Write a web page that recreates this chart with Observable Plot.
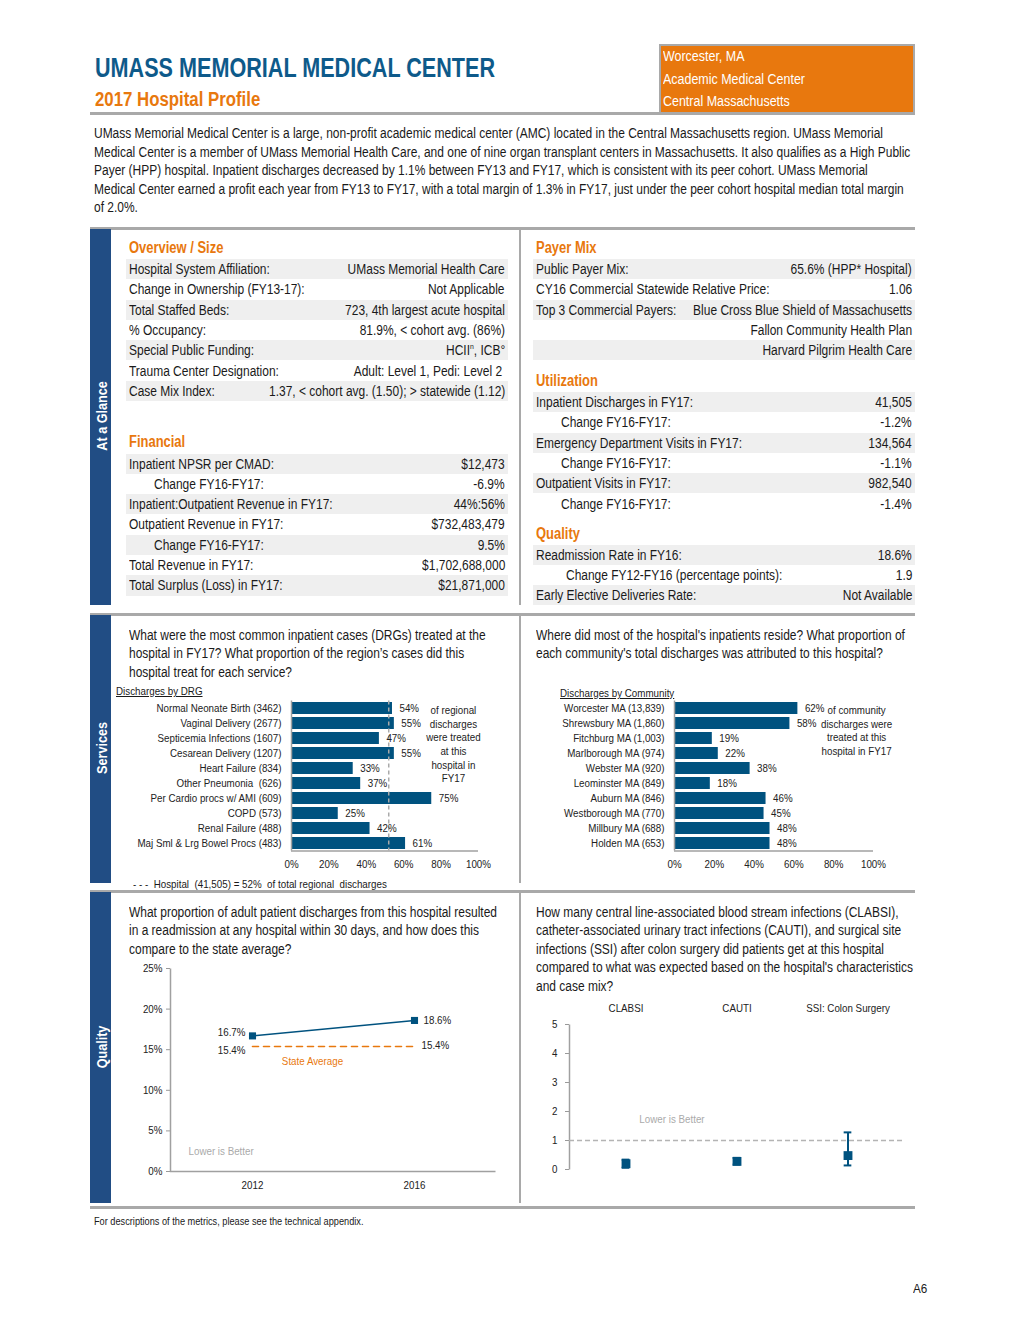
<!DOCTYPE html>
<html><head><meta charset="utf-8">
<script src="https://cdn.jsdelivr.net/npm/d3@7"></script>
<script src="https://cdn.jsdelivr.net/npm/@observablehq/plot@0.6"></script>
<style>
:root{--nf:"Liberation Sans Narrow","Arial Narrow","Liberation Sans",Arial,sans-serif;}
body{margin:0;background:#fff;}
#page{position:relative;width:1020px;height:1320px;font-family:var(--nf);color:#1a1a1a;overflow:hidden;background:#fff}
.t{position:absolute;white-space:nowrap}
.sx{display:inline-block;white-space:nowrap}
.hline{position:absolute;background:#a9a9a9}
.side{position:absolute;left:90px;width:21px;background:#214d84}
.sidelab{position:absolute;color:#fff;font-weight:bold;font-size:15px;transform:translate(-50%,-50%) rotate(-90deg) scaleX(0.84);white-space:nowrap}
.row{position:absolute;height:20.3px;line-height:20.3px;font-size:14px}
.row.sh{background:#efefef}
.nl{position:absolute;top:0;white-space:nowrap;transform:scaleX(0.855);transform-origin:left center}
.nr{position:absolute;top:0;right:3px;white-space:nowrap;transform:scaleX(0.855);transform-origin:right center}
.chart{position:absolute}
.chart svg{overflow:visible}
.chart [aria-label^="y-axis"] line,.chart [aria-label="y-axis tick"] path{stroke:#999}
</style>
</head><body><div id="page"></div>
<script>
// ---------- DATA ----------
const hospitalName = "UMASS MEMORIAL MEDICAL CENTER";
const profileTitle = "2017 Hospital Profile";
const boxLines = ["Worcester, MA", "Academic Medical Center", "Central Massachusetts"];
const introLines = [
  "UMass Memorial Medical Center is a large, non-profit academic medical center (AMC) located in the Central Massachusetts region. UMass Memorial",
  "Medical Center is a member of UMass Memorial Health Care, and one of nine organ transplant centers in Massachusetts. It also qualifies as a High Public",
  "Payer (HPP) hospital. Inpatient discharges decreased by 1.1% between  FY13 and FY17, which is consistent with its peer cohort. UMass Memorial",
  "Medical Center earned a profit each year from FY13 to FY17, with a total margin of 1.3% in FY17, just under the peer cohort hospital median total margin",
  "of 2.0%."
];
const overviewRows = [
  ["Hospital System Affiliation:", "UMass Memorial Health Care", 0],
  ["Change in Ownership (FY13-17):", "Not Applicable", 0],
  ["Total Staffed Beds:", "723, 4th largest acute hospital", 0],
  ["% Occupancy:", "81.9%, < cohort avg. (86%)", 0],
  ["Special Public Funding:", "HCII<sup style='font-size:8px;line-height:0'>n</sup>, ICB°", 0],
  ["Trauma Center Designation:", "Adult: Level 1, Pedi: Level 2&nbsp;", 0],
  ["Case Mix Index:", "1.37, < cohort avg. (1.50); > statewide (1.12)", 0]
];
const financialRows = [
  ["Inpatient NPSR per CMAD:", "$12,473", 0],
  ["Change FY16-FY17:", "-6.9%", 25],
  ["Inpatient:Outpatient Revenue in FY17:", "44%:56%", 0],
  ["Outpatient Revenue in FY17:", "$732,483,479", 0],
  ["Change FY16-FY17:", "9.5%", 25],
  ["Total Revenue in FY17:", "$1,702,688,000", 0],
  ["Total Surplus (Loss) in FY17:", "$21,871,000", 0]
];
const payerRows = [
  ["Public Payer Mix:", "65.6% (HPP* Hospital)", 0],
  ["CY16 Commercial Statewide Relative Price:", "1.06", 0],
  ["Top 3 Commercial Payers:", "Blue Cross Blue Shield of Massachusetts", 0],
  ["", "Fallon Community Health Plan", 0],
  ["", "Harvard Pilgrim Health Care", 0]
];
const utilizationRows = [
  ["Inpatient Discharges in FY17:", "41,505", 0],
  ["Change FY16-FY17:", "-1.2%", 25],
  ["Emergency Department Visits in FY17:", "134,564", 0],
  ["Change FY16-FY17:", "-1.1%", 25],
  ["Outpatient Visits in FY17:", "982,540", 0],
  ["Change FY16-FY17:", "-1.4%", 25]
];
const qualityRows = [
  ["Readmission Rate in FY16:", "18.6%", 0],
  ["Change FY12-FY16 (percentage points):", "1.9", 30],
  ["Early Elective Deliveries Rate:", "Not Available", 0]
];
const drgQuestion = ["What were the most common inpatient cases (DRGs) treated at the",
  "hospital in FY17? What proportion of the region’s cases did this", "hospital treat for each service?"];
const communityQuestion = ["Where did most of the hospital's inpatients reside? What proportion of",
  "each community's total discharges was attributed to this hospital?"];
const readmQuestion = ["What proportion of adult patient discharges from this hospital resulted",
  "in a readmission at any hospital within 30 days, and how does this", "compare to the state average?"];
const infQuestion = ["How many central line-associated blood stream infections (CLABSI),",
  "catheter-associated urinary tract infections (CAUTI), and surgical site",
  "infections (SSI) after colon surgery did patients get at this hospital",
  "compared to what was expected based on the hospital's characteristics", "and case mix?"];

const drgLabels = ["Normal Neonate Birth (3462)", "Vaginal Delivery (2677)", "Septicemia Infections (1607)",
  "Cesarean Delivery (1207)", "Heart Failure (834)", "Other Pneumonia  (626)", "Per Cardio procs w/ AMI (609)",
  "COPD (573)", "Renal Failure (488)", "Maj Sml & Lrg Bowel Procs (483)"];
const drgShare = [54, 55, 47, 55, 33, 37, 75, 25, 42, 61];
const hospitalRegionalShare = 52;
const drgNote = "of regional\ndischarges\nwere treated\nat this\nhospital in\nFY17";
const drgFootnote = "- - -  Hospital  (41,505) = 52%  of total regional  discharges";

const communityLabels = ["Worcester MA (13,839)", "Shrewsbury MA (1,860)", "Fitchburg MA (1,003)",
  "Marlborough MA (974)", "Webster MA (920)", "Leominster MA (849)", "Auburn MA (846)",
  "Westborough MA (770)", "Millbury MA (688)", "Holden MA (653)"];
const communityShare = [62, 58, 19, 22, 38, 18, 46, 45, 48, 48];
const communityNote = "of community\ndischarges were\ntreated at this\nhospital in FY17";

const pctTicks = [0, 20, 40, 60, 80, 100];

const readmYears = ["2012", "2016"];
const readmHospital = [16.7, 18.6];
const readmState = [15.4, 15.4];
const readmTicks = [0, 5, 10, 15, 20, 25];

const infMeasures = ["CLABSI", "CAUTI", "SSI: Colon Surgery"];
const infRatio = [0.20, 0.28, 0.48];
const infLower = [0.06, 0.17, 0.14];
const infUpper = [0.34, 0.40, 1.28];
const infTicks = [0, 1, 2, 3, 4, 5];

// ---------- LAYOUT ----------
const BLUE = "#00527f", ORANGE = "#e8780e", TITLE = "#0e5a8a", GREY = "#a0a0a0";
const NF = getComputedStyle(document.documentElement).getPropertyValue("--nf");
const SX = 0.855, SXC = 0.89;
const page = document.getElementById("page");
function el(tag, cls, css, html) {
  const e = document.createElement(tag);
  if (cls) e.className = cls;
  Object.assign(e.style, css || {});
  if (html != null) e.innerHTML = html;
  page.appendChild(e);
  return e;
}
function text(str, x, cy, size, lh, css, s = SX, spanCss = "") {
  return el("div", "t", Object.assign({left: x + "px", top: (cy - lh / 2) + "px", fontSize: size + "px", lineHeight: lh + "px"}, css || {}),
    `<span class="sx" style="transform:scaleX(${s});transform-origin:left center;${spanCss}">${str}</span>`);
}
function lines(arr, x, cy0, size, lh, css, s) { arr.forEach((str, i) => text(str, x, cy0 + i * lh, size, lh, css, s)); }

// header
text(hospitalName, 95, 68, 27, 30, {color: TITLE, fontWeight: "bold"}, 0.8);
text(profileTitle, 95, 99, 20, 24, {color: ORANGE, fontWeight: "bold"}, 0.84);
el("div", "", {position: "absolute", left: "659px", top: "44px", width: "252px", height: "68px", background: ORANGE,
  borderTop: "2px solid #a9a9a9", borderLeft: "2px solid #a9a9a9", borderRight: "2px solid #a9a9a9"});
boxLines.forEach((str, i) => text(str, 663, 56 + i * 22.5, 14, 20, {color: "#fff"}, 0.89));
el("div", "hline", {left: "90px", top: "112px", width: "825px", height: "3px"});
lines(introLines, 94, 133.5, 14, 18.5);

// section frames
[[228, 605], [614, 883], [891, 1203]].forEach(([a, b]) => {
  el("div", "hline", {left: "90px", top: (a - 1) + "px", width: "825px", height: "3px"});
  el("div", "side", {top: (a + 1) + "px", height: (b - a - 1) + "px"});
  el("div", "hline", {left: "519px", top: (a + 1) + "px", width: "2px", height: (b - a - 1) + "px"});
});
el("div", "hline", {left: "90px", top: "1206px", width: "825px", height: "3px"});
el("div", "sidelab", {left: "101px", top: "416px"}, "At a Glance");
el("div", "sidelab", {left: "101px", top: "748px"}, "Services");
el("div", "sidelab", {left: "101px", top: "1047px"}, "Quality");

// tables
function section(title, x, cy) { text(title, x, cy, 16, 20, {color: ORANGE, fontWeight: "bold"}, 0.81); }
function table(rows, x0, x1, y0) {
  rows.forEach(([lab, val, ind], i) => {
    const r = el("div", "row" + (i % 2 === 0 ? " sh" : ""), {left: x0 + "px", width: (x1 - x0) + "px", top: (y0 + i * 20.3) + "px"});
    r.innerHTML = `<span class="nl" style="left:${3 + ind}px">${lab}</span><span class="nr">${val}</span>`;
  });
}
section("Overview / Size", 129, 248); table(overviewRows, 126, 508, 259);
section("Financial", 129, 442); table(financialRows, 126, 508, 453.5);
section("Payer Mix", 536, 248); table(payerRows, 533, 915, 259);
section("Utilization", 536, 381); table(utilizationRows, 533, 915, 392);
section("Quality", 536, 534); table(qualityRows, 533, 915, 544.5);

// questions & notes
lines(drgQuestion, 129, 635, 14, 18.5);
lines(communityQuestion, 536, 635, 14, 18.5);
lines(readmQuestion, 129, 912, 14, 18.5);
lines(infQuestion, 536, 912, 14, 18.5);
text("Discharges by DRG", 116, 691, 11, 14, {}, SXC, "text-decoration:underline");
text("Discharges by Community", 560, 693, 11, 14, {}, SXC, "text-decoration:underline");
text(drgFootnote, 133, 884, 11, 14, {}, SXC, "white-space:pre");
text("For descriptions of the metrics, please see the technical appendix.", 94, 1222, 10, 14, {}, 0.92);
text("A6", 913, 1289, 13, 16, {}, 0.9);

const baseStyle = {fontFamily: NF, fontSize: "11px", color: "#222", background: "transparent", overflow: "visible"};
function narrowSvg(node, s) {
  node.querySelectorAll("text").forEach(t => {
    const x = parseFloat(t.getAttribute("x")) || 0;
    const T = t.getAttribute("transform") || "";
    t.setAttribute("transform", `${T} translate(${x},0) scale(${s},1) translate(${-x},0)`);
  });
}
function place(plot, x, y) {
  narrowSvg(plot, SXC);
  const d = el("div", "chart", {left: x + "px", top: y + "px"});
  d.appendChild(plot);
}

// bar charts (DRG and community)
function barChart(labels, shares, opts) {
  const data = labels.map((label, i) => ({label, share: shares[i]}));
  const marks = [
    Plot.barX(data, {x: "share", y: "label", fill: BLUE}),
    Plot.ruleX([0], {stroke: GREY, strokeWidth: 1.5}),
    Plot.ruleY([labels[labels.length - 1]], {dy: 7.5, stroke: GREY, strokeWidth: 1.5})
  ];
  if (opts.refLine != null) marks.push(Plot.ruleX([opts.refLine], {stroke: "#aaa", strokeWidth: 1.5, strokeDasharray: "4,3"}));
  marks.push(
    Plot.text(data, {x: "share", y: "label", text: d => d.share + "%", dx: 7, textAnchor: "start", fill: "#222"}),
    Plot.text([opts.note], {x: () => opts.noteX, y: () => labels[0], text: d => d, lineAnchor: "top", dy: -4, lineHeight: 1.24, fill: "#222"})
  );
  return Plot.plot({
    width: opts.width, height: 178, marginLeft: opts.ml, marginRight: opts.mr, marginTop: 2.5, marginBottom: 25.5,
    style: baseStyle,
    x: {domain: [0, 100], ticks: pctTicks, tickFormat: d => d + "%", tickSize: 0, tickPadding: 9, label: null},
    y: {domain: labels, paddingInner: 0.2, paddingOuter: 0.1, tickSize: 0, tickPadding: 10, label: null},
    marks
  });
}
place(barChart(drgLabels, drgShare, {width: 400, ml: 181, mr: 32, note: drgNote, noteX: 86.6, refLine: hospitalRegionalShare}), 110, 698);
place(barChart(communityLabels, communityShare, {width: 375, ml: 134, mr: 42, note: communityNote, noteX: 91.5}), 540, 698);

// Readmission chart
{
  const W = 325, H = 203;
  const hosp = readmYears.map((year, i) => ({year, value: readmHospital[i]}));
  const state = readmYears.map((year, i) => ({year, value: readmState[i]}));
  const fmt = d => d.value.toFixed(1) + "%";
  const p = Plot.plot({
    width: 400, height: 240, marginLeft: 60, marginRight: 15, marginTop: 8, marginBottom: 29,
    style: baseStyle,
    x: {type: "point", domain: readmYears, padding: 0.5, tickSize: 0, tickPadding: 10, label: null},
    y: {domain: [0, 25], ticks: readmTicks, tickFormat: d => d + "%", tickSize: 4, tickPadding: 4, label: null},
    marks: [
      Plot.frame({stroke: GREY, strokeWidth: 1.5, strokeDasharray: `0 ${W + H} ${W + H}`}),
      Plot.line(state, {x: "year", y: "value", stroke: ORANGE, strokeWidth: 1.6, strokeDasharray: "6,5"}),
      Plot.line(hosp, {x: "year", y: "value", stroke: BLUE, strokeWidth: 1.6}),
      Plot.dot(hosp, {x: "year", y: "value", symbol: "square", r: 4, fill: BLUE}),
      Plot.text(hosp, {filter: d => d.year === readmYears[0], x: "year", y: "value", text: fmt, textAnchor: "end", dx: -7, dy: -3, fill: "#222"}),
      Plot.text(hosp, {filter: d => d.year === readmYears[1], x: "year", y: "value", text: fmt, textAnchor: "start", dx: 9, fill: "#222"}),
      Plot.text(state, {filter: d => d.year === readmYears[0], x: "year", y: "value", text: fmt, textAnchor: "end", dx: -7, dy: 4, fill: "#222"}),
      Plot.text(state, {filter: d => d.year === readmYears[1], x: "year", y: "value", text: fmt, textAnchor: "start", dx: 7, dy: -1, fill: "#222"}),
      Plot.text(state.slice(0, 1), {x: "year", y: "value", text: () => "State Average", dx: 60, dy: 15, fill: ORANGE}),
      Plot.text(["Lower is Better"], {x: () => readmYears[0], y: () => 2.5, text: d => d, textAnchor: "start", dx: -64, fill: "#aaa"})
    ]
  });
  place(p, 110, 960);
}

// Infection chart
{
  const W = 334, H = 145;
  const data = infMeasures.map((measure, i) => ({measure, ratio: infRatio[i], lo: infLower[i], hi: infUpper[i]}));
  const cap = (W / 3 - 8) / 2;
  const p = Plot.plot({
    width: 390, height: 185, marginLeft: 44, marginRight: 12, marginTop: 24, marginBottom: 16,
    style: baseStyle,
    x: {domain: infMeasures, padding: 0, axis: "top", tickSize: 0, tickPadding: 13, label: null},
    y: {domain: [0, 5], ticks: infTicks, tickFormat: d => String(d), tickSize: 4, tickPadding: 8, label: null},
    marks: [
      Plot.frame({stroke: GREY, strokeWidth: 1.5, strokeDasharray: `0 ${2 * W + H} ${H}`}),
      Plot.ruleY([1], {stroke: "#b4b4b4", strokeWidth: 1.5, strokeDasharray: "5,3"}),
      Plot.ruleX(data, {x: "measure", y1: "lo", y2: "hi", stroke: BLUE, strokeWidth: 2}),
      Plot.tickY(data, {x: "measure", y: "lo", insetLeft: cap, insetRight: cap, stroke: BLUE, strokeWidth: 2}),
      Plot.tickY(data, {x: "measure", y: "hi", insetLeft: cap, insetRight: cap, stroke: BLUE, strokeWidth: 2}),
      Plot.dot(data, {x: "measure", y: "ratio", symbol: "square", r: 5, fill: BLUE}),
      Plot.text(["Lower is Better"], {x: () => infMeasures[0], y: () => 1.72, text: d => d, dx: 46, fill: "#aaa"})
    ]
  });
  place(p, 525, 1000);
}
</script></body></html>
